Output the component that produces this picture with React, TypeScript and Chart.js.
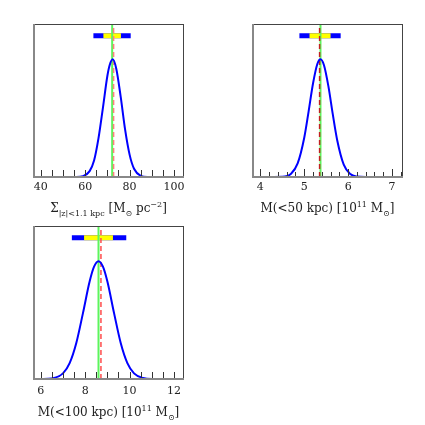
import React, { useEffect, useRef } from 'react';
import { Chart, registerables } from 'chart.js';
Chart.register(...registerables);

// ---------- shared ----------
const yRange = [0, 1.3];
const barLevel = 1.2;

// ---------- panel 1: surface density ----------
const p1CurveX = [40, 56, 59, 62, 64, 66, 68, 70, 71, 72.4, 74, 76, 78, 80, 82, 85, 88, 100];
const p1CurveY = [0, 0, 0.007, 0.05, 0.14, 0.33, 0.59, 0.86, 0.95, 1, 0.92, 0.68, 0.4, 0.19, 0.07, 0.01, 0, 0];
const p1Ticks = [40, 45, 50, 55, 60, 65, 70, 75, 80, 85, 90, 95, 100];
const p1Labels = [40, 60, 80, 100];
const p1Range = [36.5, 104.5];
const p1Green = 72.15;
const p1Red = 72.8;
const p1Sigma1 = [68.2, 76.1];
const p1Sigma2 = [63.7, 80.5];
const p1Title = [
  { t: 'Σ', k: 'n' },
  { t: '|z|<1.1 kpc', k: 'sub' },
  { t: ' [M', k: 'n' },
  { t: '⊙', k: 'sub' },
  { t: ' pc', k: 'n' },
  { t: '−2', k: 'sup' },
  { t: ']', k: 'n' },
];

// ---------- panel 2: M(<50 kpc) ----------
const p2CurveX = [4, 4.5, 4.7, 4.85, 5.0, 5.1, 5.2, 5.3, 5.37, 5.45, 5.55, 5.65, 5.75, 5.9, 6.05, 6.2, 6.4, 7.1];
const p2CurveY = [0, 0.002, 0.028, 0.115, 0.334, 0.558, 0.794, 0.962, 1, 0.95, 0.772, 0.534, 0.315, 0.105, 0.025, 0.004, 0, 0];
const p2Ticks = [4, 4.2, 4.4, 4.6, 4.8, 5, 5.2, 5.4, 5.6, 5.8, 6, 6.2, 6.4, 6.6, 6.8, 7, 7.2];
const p2Labels = [4, 5, 6, 7];
const p2Range = [3.81, 7.25];
const p2Green = 5.37;
const p2Red = 5.35;
const p2Sigma1 = [5.12, 5.6];
const p2Sigma2 = [4.89, 5.83];
const p2Title = [
  { t: 'M(<50 kpc) [10', k: 'n' },
  { t: '11', k: 'sup' },
  { t: ' M', k: 'n' },
  { t: '⊙', k: 'sub' },
  { t: ']', k: 'n' },
];

// ---------- panel 3: M(<100 kpc) ----------
const p3CurveX = [6, 6.5, 7.0, 7.3, 7.6, 7.9, 8.2, 8.4, 8.6, 8.8, 9.0, 9.3, 9.6, 9.9, 10.2, 10.6, 11, 12.1];
const p3CurveY = [0, 0.005, 0.048, 0.135, 0.306, 0.56, 0.828, 0.954, 1, 0.954, 0.828, 0.56, 0.306, 0.135, 0.048, 0.009, 0, 0];
const p3Ticks = [6, 6.5, 7, 7.5, 8, 8.5, 9, 9.5, 10, 10.5, 11, 11.5, 12];
const p3Labels = [6, 8, 10, 12];
const p3Range = [5.65, 12.45];
const p3Green = 8.6;
const p3Red = 8.71;
const p3Sigma1 = [7.95, 9.25];
const p3Sigma2 = [7.4, 9.85];
const p3Title = [
  { t: 'M(<100 kpc) [10', k: 'n' },
  { t: '11', k: 'sup' },
  { t: ' M', k: 'n' },
  { t: '⊙', k: 'sub' },
  { t: ']', k: 'n' },
];

const FONT = "'DejaVu Serif', serif";

type Piece = { t: string; k: string };

function drawRichTitle(ctx: CanvasRenderingContext2D, pieces: Piece[], cx: number, baseY: number, size: number) {
  const small = Math.round(size * 0.68);
  const fontFor = (k: string) => `${k === 'n' ? size : small}px ${FONT}`;
  let total = 0;
  const widths = pieces.map((p) => {
    ctx.font = fontFor(p.k);
    const w = ctx.measureText(p.t).width;
    total += w;
    return w;
  });
  let x = cx - total / 2;
  ctx.save();
  ctx.fillStyle = '#222';
  ctx.textBaseline = 'alphabetic';
  ctx.textAlign = 'left';
  pieces.forEach((p, i) => {
    ctx.font = fontFor(p.k);
    const dy = p.k === 'sub' ? size * 0.3 : p.k === 'sup' ? -size * 0.4 : 0;
    ctx.fillText(p.t, x, baseY + dy);
    x += widths[i];
  });
  ctx.restore();
}

type PanelDef = {
  curveX: number[]; curveY: number[]; ticks: number[]; labels: number[]; range: number[];
  green: number; red: number; s1: number[]; s2: number[]; title: Piece[];
  redColor: string;
  left: number; top: number; width: number; height: number;
  padL: number; padR: number; padT: number; axisH: number;
  labelPad: number; titleOff: number; majorLen: number; minorLen: number;
};

function Panel({ d }: { d: PanelDef }) {
  const ref = useRef<HTMLCanvasElement>(null);
  useEffect(() => {
    const decor = {
      id: 'decor',
      afterDatasetsDraw(chart: any) {
        const { ctx, chartArea } = chart;
        const { left, right, top, bottom } = chartArea;
        const xs = chart.scales.x;
        ctx.save();
        ctx.strokeStyle = '#333';
        ctx.lineWidth = 1;
        d.ticks.forEach((v) => {
          const px = Math.round(xs.getPixelForValue(v)) + 0.5;
          const len = d.labels.includes(v) ? d.majorLen : d.minorLen;
          ctx.beginPath();
          ctx.moveTo(px, bottom);
          ctx.lineTo(px, bottom - len);
          ctx.stroke();
        });
        ctx.strokeStyle = '#444';
        ctx.lineWidth = 1;
        ctx.beginPath();
        ctx.moveTo(left, top + 0.5);
        ctx.lineTo(right, top + 0.5);
        ctx.moveTo(right - 0.5, top);
        ctx.lineTo(right - 0.5, bottom);
        ctx.stroke();
        ctx.strokeStyle = '#888';
        ctx.lineWidth = 2;
        ctx.beginPath();
        ctx.moveTo(left + 1, top);
        ctx.lineTo(left + 1, bottom + 1);
        ctx.moveTo(left, bottom);
        ctx.lineTo(right, bottom);
        ctx.stroke();
        ctx.restore();
        drawRichTitle(ctx, d.title, (left + right) / 2, bottom + d.titleOff, 12);
      },
    };
    const chart = new Chart(ref.current as HTMLCanvasElement, {
      type: 'line',
      data: {
        datasets: [
          {
            data: d.curveX.map((x, i) => ({ x, y: d.curveY[i] })),
            borderColor: '#0000ff', borderWidth: 2, pointRadius: 0,
            cubicInterpolationMode: 'monotone', order: 0,
          },
          {
            data: [{ x: d.red, y: yRange[0] }, { x: d.red, y: yRange[1] }],
            borderColor: d.redColor, borderWidth: 1.5, borderDash: [5, 3], pointRadius: 0, order: 1,
          },
          {
            data: [{ x: d.green, y: yRange[0] }, { x: d.green, y: yRange[1] }],
            borderColor: '#5cf55c', borderWidth: 2, pointRadius: 0, order: 2,
          },
          {
            data: [{ x: d.s1[0], y: barLevel }, { x: d.s1[1], y: barLevel }],
            borderColor: '#ffff00', borderWidth: 5, borderCapStyle: 'butt', pointRadius: 0, order: 3,
          },
          {
            data: [{ x: d.s2[0], y: barLevel }, { x: d.s2[1], y: barLevel }],
            borderColor: '#0000ff', borderWidth: 5, borderCapStyle: 'butt', pointRadius: 0, order: 4,
          },
        ],
      } as any,
      options: {
        animation: false,
        responsive: false,
        events: [],
        layout: { padding: { left: d.padL, right: d.padR, top: d.padT, bottom: 0 } },
        plugins: { legend: { display: false }, tooltip: { enabled: false }, title: { display: false } },
        scales: {
          x: {
            type: 'linear',
            min: d.range[0], max: d.range[1],
            grid: { display: false, drawTicks: false },
            border: { display: false },
            afterBuildTicks: (scale: any) => { scale.ticks = d.ticks.map((v) => ({ value: v })); },
            afterFit: (scale: any) => { scale.height = d.axisH; },
            ticks: {
              autoSkip: false, maxRotation: 0, padding: d.labelPad, color: '#222',
              font: { family: FONT, size: 11 },
              callback: (v: any) => (d.labels.includes(Number(v)) ? String(v) : ''),
            },
          },
          y: { type: 'linear', min: yRange[0], max: yRange[1], display: false },
        },
      } as any,
      plugins: [decor],
    });
    return () => chart.destroy();
  }, []);
  return (
    <canvas ref={ref} width={d.width} height={d.height}
      style={{ position: 'absolute', left: d.left, top: d.top, width: d.width, height: d.height }} />
  );
}

const panels: PanelDef[] = [
  {
    curveX: p1CurveX, curveY: p1CurveY, ticks: p1Ticks, labels: p1Labels, range: p1Range,
    green: p1Green, red: p1Red, s1: p1Sigma1, s2: p1Sigma2, title: p1Title, redColor: '#ff7f7f',
    left: 0, top: 0, width: 212, height: 222, padL: 33, padR: 28, padT: 24, axisH: 45,
    labelPad: 4, titleOff: 35, majorLen: 7, minorLen: 7,
  },
  {
    curveX: p2CurveX, curveY: p2CurveY, ticks: p2Ticks, labels: p2Labels, range: p2Range,
    green: p2Green, red: p2Red, s1: p2Sigma1, s2: p2Sigma2, title: p2Title, redColor: '#c02020',
    left: 212, top: 0, width: 213, height: 222, padL: 40, padR: 22, padT: 24, axisH: 45,
    labelPad: 4, titleOff: 35, majorLen: 8, minorLen: 5,
  },
  {
    curveX: p3CurveX, curveY: p3CurveY, ticks: p3Ticks, labels: p3Labels, range: p3Range,
    green: p3Green, red: p3Red, s1: p3Sigma1, s2: p3Sigma2, title: p3Title, redColor: '#ff4d4d',
    left: 0, top: 212, width: 212, height: 213, padL: 33, padR: 28, padT: 14, axisH: 46,
    labelPad: 6, titleOff: 37, majorLen: 7, minorLen: 7,
  },
];

export default function App() {
  return (
    <div style={{ position: 'fixed', left: 0, top: 0, width: 425, height: 425, background: '#fff' }}>
      {panels.map((d, i) => <Panel key={i} d={d} />)}
    </div>
  );
}
